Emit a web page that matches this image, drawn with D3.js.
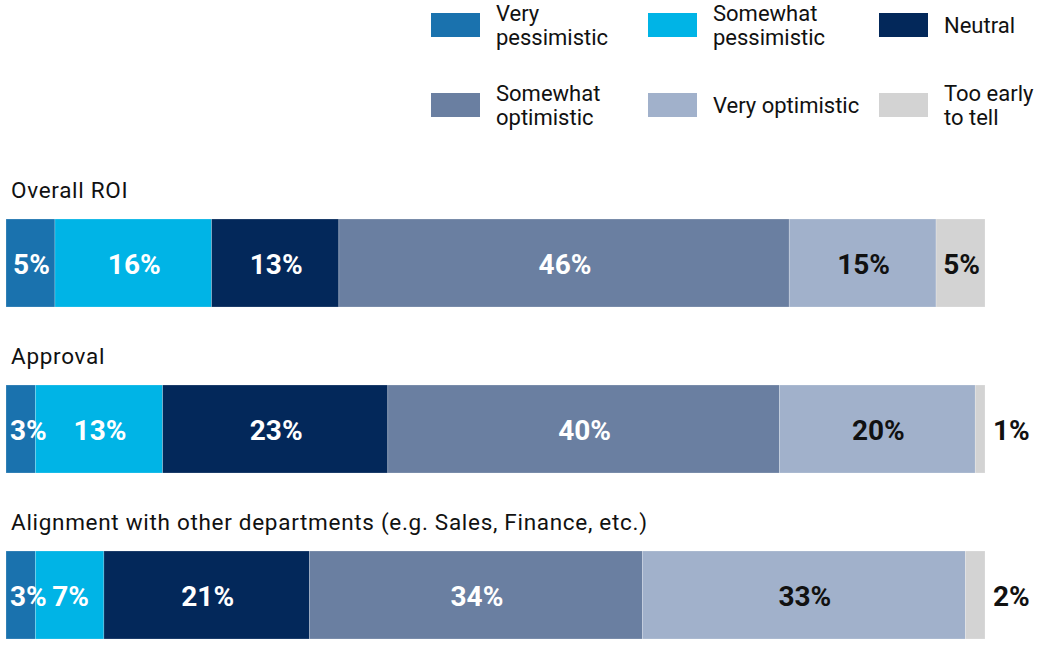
<!DOCTYPE html>
<html><head><meta charset="utf-8">
<script src="https://cdn.jsdelivr.net/npm/d3@7"></script>
<style>
html,body{margin:0;padding:0;background:#fff;}
svg{display:block;font-family:Roboto,"Open Sans",sans-serif;}
</style></head>
<body>
<svg id="chart" width="1048" height="648"></svg>
<script>
const categories = ["Overall ROI", "Approval", "Alignment with other departments (e.g. Sales, Finance, etc.)"];
const seriesNames = ["Very pessimistic", "Somewhat pessimistic", "Neutral", "Somewhat optimistic", "Very optimistic", "Too early to tell"];
const legendLines = [["Very","pessimistic"],["Somewhat","pessimistic"],["Neutral"],["Somewhat","optimistic"],["Very optimistic"],["Too early","to tell"]];
const colors = ["#1a72ae", "#00b4e6", "#03285a", "#6a7fa1", "#a1b1cb", "#d3d3d3"];
const textColors = ["#fff", "#fff", "#fff", "#fff", "#111", "#111"];
const veryPessimistic = [5, 3, 3];
const somewhatPessimistic = [16, 13, 7];
const neutral = [13, 23, 21];
const somewhatOptimistic = [46, 40, 34];
const veryOptimistic = [15, 20, 33];
const tooEarly = [5, 1, 2];
const seriesValues = [veryPessimistic, somewhatPessimistic, neutral, somewhatOptimistic, veryOptimistic, tooEarly];

const svg = d3.select("#chart");
const x = d3.scaleLinear().domain([0, 100]).range([6, 985]);
const y = d3.scalePoint().domain(categories).range([219, 551]);
const barH = 88;

const rows = categories.map((c, i) => {
  const obj = {cat: c};
  seriesNames.forEach((s, j) => obj[s] = seriesValues[j][i]);
  return obj;
});
const stack = d3.stack().keys(seriesNames)(rows);

// category labels
svg.append("g").selectAll("text").data(categories).join("text")
  .attr("x", 11).attr("y", d => y(d) - 21)
  .attr("font-size", 22.5).attr("letter-spacing", 0.7).attr("fill", "#111").text(d => d);

// bars
const layers = svg.append("g").selectAll("g").data(stack).join("g")
  .attr("fill", (d, i) => colors[i]);
layers.selectAll("rect").data(d => d).join("rect")
  .attr("x", d => x(d[0])).attr("y", d => y(d.data.cat))
  .attr("width", d => x(d[1]) - x(d[0])).attr("height", barH)
  .attr("stroke", "rgba(255,255,255,0.35)").attr("stroke-width", 0.6);

// value labels
stack.forEach((layer, i) => {
  layer.forEach(d => {
    const v = d[1] - d[0];
    const outside = (i === seriesNames.length - 1) && v < 3;
    const t = svg.append("text")
      .attr("y", y(d.data.cat) + barH / 2 + 10.5)
      .attr("font-size", 28).attr("font-weight", 700).attr("letter-spacing", 0)
      .attr("fill", outside ? "#111" : textColors[i])
      .text(v + "%");
    const tw = t.node().getComputedTextLength();
    const segW = x(d[1]) - x(d[0]);
    if (outside) {
      t.attr("x", x(100) + 8).attr("text-anchor", "start");
    } else if (tw > segW) {
      t.attr("x", x(d[0]) + 4).attr("text-anchor", "start");
    } else {
      t.attr("x", (x(d[0]) + x(d[1])) / 2 + 1).attr("text-anchor", "middle");
    }
  });
});

// legend
const legX = [431, 648, 879];
const legY = [13, 93];
const leg = svg.append("g");
seriesNames.forEach((s, i) => {
  const cx = legX[i % 3], cy = legY[Math.floor(i / 3)];
  leg.append("rect").attr("x", cx).attr("y", cy).attr("width", 49).attr("height", 24).attr("fill", colors[i]);
  const lines = legendLines[i];
  const base = cy + 12 + 8;
  lines.forEach((l, k) => {
    leg.append("text").attr("x", cx + 65)
      .attr("y", base + (k - (lines.length - 1) / 2) * 23.5)
      .attr("font-size", 22).attr("fill", "#111").text(l);
  });
});
</script>
</body></html>
